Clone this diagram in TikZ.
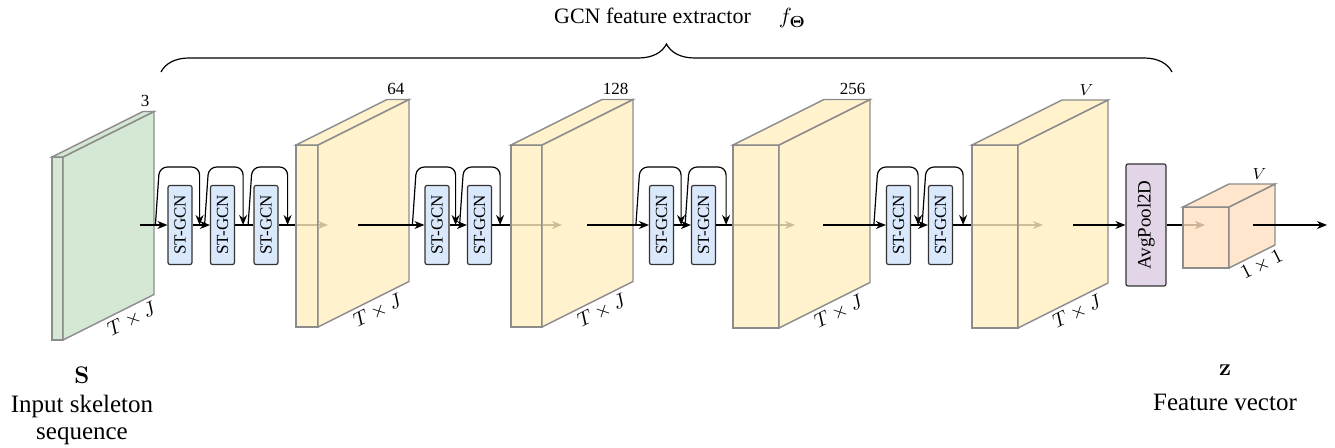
\documentclass[tikz,border=0pt]{standalone}
\usepackage[no-math]{fontspec}
\setmainfont{Liberation Serif}
\usetikzlibrary{arrows.meta,decorations.pathreplacing}

\definecolor{inputgreen}{RGB}{202,226,201}
\definecolor{featyellow}{RGB}{255,239,191}
\definecolor{vecpeach}{RGB}{255,224,191}
\definecolor{gcnblue}{RGB}{218,232,252}
\definecolor{poolpurple}{RGB}{225,213,231}

\tikzset{
  slab/.style={draw=black!45, line width=0.7pt, fill=#1, fill opacity=0.8},
  gcn/.style={draw=black!80, fill=gcnblue, rounded corners=1pt, inner sep=0pt,
    minimum width=12pt, minimum height=39.5pt, font=\fontsize{8.5}{10}\selectfont},
  pool/.style={gcn, fill=poolpurple, minimum width=20pt, minimum height=61pt,
    font=\fontsize{9.5}{11}\selectfont},
  flow/.style={-{Stealth[length=5pt,width=4pt]}},
  shortcut/.style={flow, rounded corners=4pt},
  chan/.style={anchor=south east, inner sep=2pt, font=\fontsize{8.5}{10}\selectfont},
  dims/.style={anchor=north, rotate=26.6, inner sep=2pt, font=\fontsize{10}{12}\selectfont},
  legend/.style={align=center, anchor=north, inner sep=0pt, font=\fontsize{12.5}{13.5}\selectfont},
}

% front face, side face and top face of one feature map
\newcommand{\slabbox}[7]{% name, x1, x2, top, bottom, depth, colour
  \filldraw[slab=#7] (#2,#4) rectangle (#3,#5);
  \filldraw[slab=#7] (#3,#4) -- (#3+#6,#4-#6/2) -- (#3+#6,#5-#6/2) -- (#3,#5) -- cycle;
  \filldraw[slab=#7] (#2,#4) -- (#2+#6,#4-#6/2) -- (#3+#6,#4-#6/2) -- (#3,#4) -- cycle;
  \coordinate (#1-tr) at (#3+#6,#4-#6/2);
  \coordinate (#1-fb) at (#3,#5);
  \coordinate (#1-bb) at (#3+#6,#5-#6/2);
}

\begin{document}
\begin{tikzpicture}[x=0.5pt,y=-0.5pt,line width=0.6pt]
\useasboundingbox (0,0) rectangle (1335,448);

% title and brace
\node[anchor=base, font=\fontsize{11}{13}\selectfont] (title) at (680,24)
  {GCN feature extractor\hspace{14pt}$f_{\mathbf{\Theta}}$};
\coordinate (bl) at (161,72);
\coordinate (br) at (1172,72);
\draw[decorate, decoration={brace, amplitude=14pt}] (bl) -- (br);

% input skeleton
\slabbox{b0}{52}{63}{157}{340}{91}{inputgreen}
\node[chan] (c0) at (b0-tr) {3};
\path (b0-fb) -- (b0-bb) node[dims, pos=0.7] (d0) {$T\times J$};
\node[legend] (inlabel) at (82,366) {$\mathbf{S}$\\[1pt]Input skeleton\\sequence};

% ST-GCN blocks
\foreach \n/\x in {g11/180, g12/222.5, g13/266, g21/437, g22/479.5,
                   g31/661.5, g32/703.5, g41/898.5, g42/940.5}
  \node[gcn] (\n) at (\x,225) {\rotatebox{90}{ST-GCN}};
\node[pool] (pool) at (1146,225) {\rotatebox{90}{AvgPool2D}};

% stage 1
\coordinate (in1) at (140,225);
\coordinate (out1) at (328,225);
\draw[flow] (in1) -- (g11);
\draw[flow] (g11) -- (g12);
\draw (g12) -- (g13);
\draw[flow] (g13) -- (out1);
\draw[shortcut] ([xshift=-6pt]g11.west) -- ++(2pt,29pt) -| ([xshift=3.5pt]g11.east);
\draw[shortcut] ([xshift=6pt]g11.east) -- ++(2pt,29pt) -| ([xshift=4pt]g12.east);
\draw[shortcut] ([xshift=6.5pt]g12.east) -- ++(2pt,29pt) -| ([xshift=4.5pt]g13.east);

\slabbox{b1}{296}{318}{145}{327}{91}{featyellow}
\node[chan] (c1) at (b1-tr) {64};
\path (b1-fb) -- (b1-bb) node[dims, pos=0.6] (d1) {$T\times J$};

% stage 2
\coordinate (in2) at (358,225);
\coordinate (out2) at (562,225);
\draw[flow] (in2) -- (g21);
\draw[flow] (g21) -- (g22);
\draw[flow] (g22) -- (out2);
\draw[shortcut] ([xshift=-6pt]g21.west) -- ++(2pt,29pt) -| ([xshift=3pt]g21.east);
\draw[shortcut] ([xshift=5pt]g21.east) -- ++(2pt,29pt) -| ([xshift=4pt]g22.east);

\slabbox{b2}{511}{542}{145}{327}{91}{featyellow}
\node[chan] (c2) at (b2-tr) {128};
\path (b2-fb) -- (b2-bb) node[dims, pos=0.6] (d2) {$T\times J$};

% stage 3
\coordinate (in3) at (587,225);
\coordinate (out3) at (795,225);
\draw[flow] (in3) -- (g31);
\draw[flow] (g31) -- (g32);
\draw[flow] (g32) -- (out3);
\draw[shortcut] ([xshift=-6.5pt]g31.west) -- ++(2pt,29pt) -| ([xshift=3.5pt]g31.east);
\draw[shortcut] ([xshift=5.5pt]g31.east) -- ++(2pt,29pt) -| ([xshift=5pt]g32.east);

\slabbox{b3}{733}{779}{145}{328}{91}{featyellow}
\node[chan] (c3) at (b3-tr) {256};
\path (b3-fb) -- (b3-bb) node[dims, pos=0.6] (d3) {$T\times J$};

% stage 4
\coordinate (in4) at (823,225);
\coordinate (out4) at (1043,225);
\draw[flow] (in4) -- (g41);
\draw[flow] (g41) -- (g42);
\draw[flow] (g42) -- (out4);
\draw[shortcut] ([xshift=-6pt]g41.west) -- ++(2pt,29pt) -| ([xshift=3.5pt]g41.east);
\draw[shortcut] ([xshift=5.5pt]g41.east) -- ++(2pt,29pt) -| ([xshift=5pt]g42.east);

\slabbox{b4}{972}{1018}{145}{328}{90}{featyellow}
\node[chan, xshift=-5pt] (c4) at (b4-tr) {$V$};
\path (b4-fb) -- (b4-bb) node[dims, pos=0.6] (d4) {$T\times J$};

% pooling and feature vector
\coordinate (in5) at (1073,225);
\coordinate (out5) at (1205,225);
\draw[flow] (in5) -- (pool);
\draw[flow] (pool) -- (out5);

\slabbox{b5}{1183}{1229}{207}{268}{46}{vecpeach}
\node[chan, xshift=-2pt] (c5) at (b5-tr) {$V$};
\path (b5-fb) -- (b5-bb) node[dims, pos=0.6] (d5) {$1\times 1$};

\coordinate (in6) at (1253,225);
\coordinate (out6) at (1327,225);
\draw[flow] (in6) -- (out6);
\node[legend] (outlabel) at (1225,364) {$\mathbf{z}$\\[4pt]Feature vector};
\end{tikzpicture}
\end{document}
